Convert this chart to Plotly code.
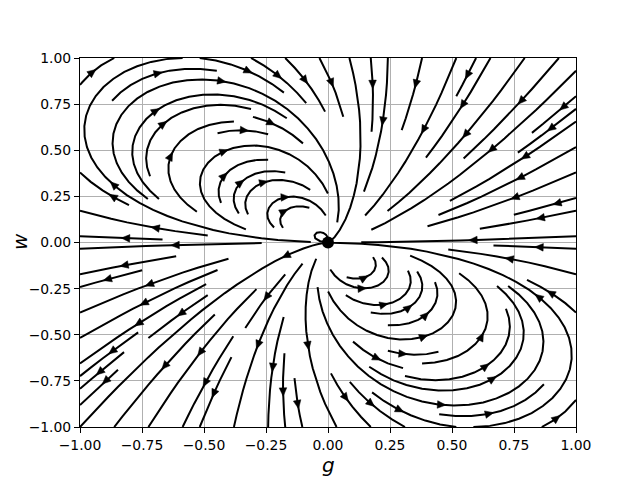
import numpy as np
import plotly.graph_objects as go

# ---------------- values ----------------
# dg/dt = P(g, w), dw/dt = Q(g, w); coefficients of [g*g, g*w, w*w]
p_coef = [-1.0, -1.378, 0.379]
q_coef = [0.0, -1.875, -1.084]
g_lim = [-1.0, 1.0]
w_lim = [-1.0, 1.0]
tick_vals = [-1.0, -0.75, -0.5, -0.25, 0.0, 0.25, 0.5, 0.75, 1.0]
tick_text = ["\u22121.00", "\u22120.75", "\u22120.50", "\u22120.25", "0.00",
             "0.25", "0.50", "0.75", "1.00"]
fixed_g = [0.0]
fixed_w = [0.0]
x_label = "g"
y_label = "w"

# ---------------- layout geometry (pixels) ----------------
# the page has an 8 px body margin, so margins are reduced by 8 px
W_PX, H_PX = 640, 480
PAGE_OFF = 8
M_L, M_T = 80 - PAGE_OFF, 58 - PAGE_OFF
PLOT_W, PLOT_H = 496, 369
M_R = W_PX - M_L - PLOT_W
M_B = H_PX - M_T - PLOT_H


def velocity(g, w):
    P = p_coef[0] * g * g + p_coef[1] * g * w + p_coef[2] * w * w
    Q = q_coef[0] * g * g + q_coef[1] * g * w + q_coef[2] * w * w
    return P, Q


class _Stop(Exception):
    pass


class _Out(Exception):
    pass


class _Invalid(Exception):
    pass


def streamlines(n_mask=30, maxlength=4.0, minlength=0.1):
    """matplotlib-style streamplot trajectories (density=1)."""
    x0, x1 = g_lim
    y0, y1 = w_lim
    W = x1 - x0
    H = y1 - y0
    nm1 = n_mask - 1
    mask = np.zeros((n_mask, n_mask), dtype=int)
    st = {"cur": None, "traj": []}

    def within(u, v):
        return 0.0 <= u <= 1.0 and 0.0 <= v <= 1.0

    def direction(u, v, sign):
        if not within(u, v):
            raise _Out
        P, Q = velocity(x0 + u * W, y0 + v * H)
        uu, vv = P / W, Q / H
        s = (uu * uu + vv * vv) ** 0.5
        if s == 0:
            raise _Stop
        return sign * uu / s, sign * vv / s

    def update_mask(xm, ym):
        if st["cur"] != (xm, ym):
            if mask[ym, xm] == 0:
                st["traj"].append((ym, xm))
                mask[ym, xm] = 1
                st["cur"] = (xm, ym)
            else:
                raise _Invalid

    def update(u, v):
        if not within(u, v):
            raise _Invalid
        update_mask(round(u * nm1), round(v * nm1))

    def euler(traj, sign):
        xi, yi = traj[-1]
        cx, cy = direction(xi, yi, sign)
        if cx == 0:
            dsx = np.inf
        elif cx < 0:
            dsx = xi / -cx
        else:
            dsx = (1.0 - xi) / cx
        if cy == 0:
            dsy = np.inf
        elif cy < 0:
            dsy = yi / -cy
        else:
            dsy = (1.0 - yi) / cy
        ds = min(dsx, dsy)
        traj.append((xi + cx * ds, yi + cy * ds))
        return ds, traj

    def rk12(u0, v0, sign):
        maxerror = 0.003
        maxds = min(1.0 / n_mask, 0.1)
        ds = maxds
        stotal = 0.0
        xi, yi = u0, v0
        traj = []
        it = 0
        while it < 20000:
            it += 1
            try:
                if within(xi, yi):
                    traj.append((xi, yi))
                else:
                    raise _Out
                k1x, k1y = direction(xi, yi, sign)
                k2x, k2y = direction(xi + ds * k1x, yi + ds * k1y, sign)
            except _Out:
                if traj:
                    try:
                        d_, traj = euler(traj, sign)
                        stotal += d_
                    except (_Out, _Stop):
                        pass
                break
            except _Stop:
                break
            dx1 = ds * k1x
            dy1 = ds * k1y
            dx2 = ds * 0.5 * (k1x + k2x)
            dy2 = ds * 0.5 * (k1y + k2y)
            error = ((dx2 - dx1) ** 2 + (dy2 - dy1) ** 2) ** 0.5
            if error < maxerror:
                xi += dx2
                yi += dy2
                try:
                    update(xi, yi)
                except _Invalid:
                    break
                if stotal + ds > maxlength:
                    break
                stotal += ds
            if error == 0:
                ds = maxds
            else:
                ds = min(maxds, 0.85 * ds * (maxerror / error) ** 0.5)
        return stotal, traj

    def integrate(u0, v0):
        xm, ym = round(u0 * nm1), round(v0 * nm1)
        st["traj"] = []
        try:
            update_mask(xm, ym)
        except _Invalid:
            return None
        stotal = 0.0
        s, xyt = rk12(u0, v0, -1.0)
        stotal += s
        xy = xyt[::-1]
        st["cur"] = (xm, ym)
        s, xyt = rk12(u0, v0, 1.0)
        stotal += s
        xy += xyt[1:]
        if stotal > minlength:
            return xy
        for (yy, xx) in st["traj"]:
            mask[yy, xx] = 0
        return None

    def starts(nx, ny):
        xfirst, yfirst = 0, 1
        xlast, ylast = nx - 1, ny - 1
        x, y = 0, 0
        d = "right"
        for _ in range(nx * ny):
            yield x, y
            if d == "right":
                x += 1
                if x >= xlast:
                    xlast -= 1
                    d = "up"
            elif d == "up":
                y += 1
                if y >= ylast:
                    ylast -= 1
                    d = "left"
            elif d == "left":
                x -= 1
                if x <= xfirst:
                    xfirst += 1
                    d = "down"
            elif d == "down":
                y -= 1
                if y <= yfirst:
                    yfirst += 1
                    d = "right"

    out = []
    for xm, ym in starts(n_mask, n_mask):
        if mask[ym, xm] == 0:
            t = integrate(xm / nm1, ym / nm1)
            if t is not None and len(t) > 1:
                arr = np.array(t)
                out.append((x0 + arr[:, 0] * W, y0 + arr[:, 1] * H))
    return out


trajs = streamlines()

sx = PLOT_W / (g_lim[1] - g_lim[0])
sy = PLOT_H / (w_lim[1] - w_lim[0])

line_x, line_y = [], []
tri_x, tri_y = [], []
HEAD_L = 8.5
HEAD_HW = 3.8
for tx, ty in trajs:
    line_x += list(tx) + [None]
    line_y += list(ty) + [None]
    s = np.cumsum(np.hypot(np.diff(tx), np.diff(ty)))
    if len(s) == 0 or s[-1] == 0:
        continue
    n = int(np.searchsorted(s, s[-1] / 2.0))
    tail = (tx[n], ty[n])
    head = (np.mean(tx[n:n + 2]), np.mean(ty[n:n + 2]))
    dxp = (head[0] - tail[0]) * sx
    dyp = (head[1] - tail[1]) * sy
    L = np.hypot(dxp, dyp)
    if L == 0:
        continue
    ux, uy = dxp / L, dyp / L
    px, py = -uy, ux
    bx = head[0] - HEAD_L * ux / sx
    by = head[1] - HEAD_L * uy / sy
    tri_x += [head[0], bx + HEAD_HW * px / sx, bx - HEAD_HW * px / sx, head[0], None]
    tri_y += [head[1], by + HEAD_HW * py / sy, by - HEAD_HW * py / sy, head[1], None]

fig = go.Figure()
fig.add_trace(go.Scatter(x=line_x, y=line_y, mode="lines",
                         line=dict(color="black", width=2),
                         hoverinfo="skip", showlegend=False))
fig.add_trace(go.Scatter(x=tri_x, y=tri_y, mode="lines", fill="toself",
                         fillcolor="black", line=dict(color="black", width=0.5),
                         hoverinfo="skip", showlegend=False))
fig.add_trace(go.Scatter(x=fixed_g, y=fixed_w, mode="markers",
                         marker=dict(color="black", size=12),
                         hoverinfo="skip", showlegend=False))

axis_common = dict(
    tickmode="array", tickvals=tick_vals, ticktext=tick_text,
    ticks="outside", ticklen=5, tickwidth=1, tickcolor="black",
    showgrid=True, gridcolor="#b0b0b0", gridwidth=1,
    showline=True, linecolor="black", linewidth=1, mirror=True,
    zeroline=False, fixedrange=True,
    tickfont=dict(family="DejaVu Sans", size=13.9, color="black"),
)
fig.update_xaxes(range=g_lim, **axis_common)
fig.update_yaxes(range=w_lim, **axis_common)

label_font = dict(family="DejaVu Sans", size=20, color="black")
# axis labels placed as paper-anchored text (centres near the reference positions)
fig.add_annotation(text="<i>" + x_label + "</i>", xref="paper", yref="paper",
                   x=(328 - PAGE_OFF - M_L) / PLOT_W,
                   y=(M_T + PLOT_H - (465 - PAGE_OFF)) / PLOT_H,
                   xanchor="center", yanchor="middle", showarrow=False,
                   font=label_font)
fig.add_annotation(text="<i>" + y_label + "</i>", xref="paper", yref="paper",
                   x=(20 - PAGE_OFF - M_L) / PLOT_W,
                   y=(M_T + PLOT_H - (242 - PAGE_OFF)) / PLOT_H,
                   xanchor="center", yanchor="middle", showarrow=False,
                   textangle=-90, font=label_font)

fig.update_layout(width=W_PX, height=H_PX,
                  margin=dict(l=M_L, r=M_R, t=M_T, b=M_B, autoexpand=False),
                  paper_bgcolor="white", plot_bgcolor="white")
fig.write_html("out.html")
